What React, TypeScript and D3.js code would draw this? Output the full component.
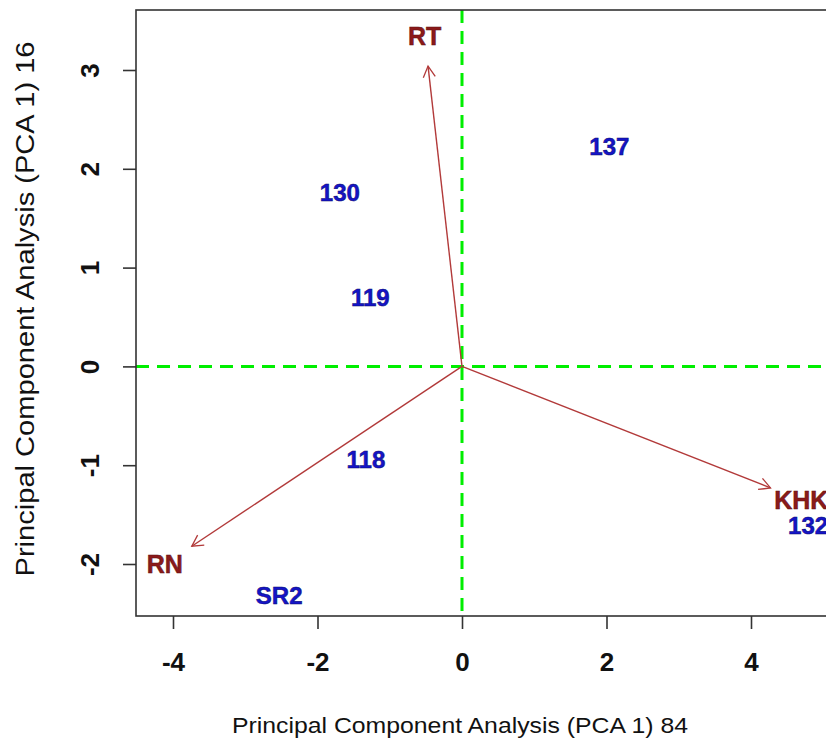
import React, { useRef, useEffect } from 'react';
import * as d3 from 'd3';

// scores (individuals)
const pointLabels = ['137', '130', '119', '118', 'SR2', '132'];
const pc1 = [2.04, -1.69, -1.27, -1.33, -2.53, 4.79];
const pc2 = [2.23, 1.76, 0.7, -0.94, -2.32, -1.61];

// loadings (variables)
const varLabels = ['RT', 'RN', 'KHK'];
const load1 = [-0.47, -3.74, 4.27];
const load2 = [3.04, -1.82, -1.23];

const xTicks = [-4, -2, 0, 2, 4];
const yTicks = [-2, -1, 0, 1, 2, 3];

const xTitle = 'Principal Component Analysis (PCA 1) 84';
const yTitle = 'Principal Component Analysis (PCA 1) 16';

export default function App() {
  const svgRef = useRef(null);
  const width = 826;
  const height = 740;

  useEffect(() => {
    const svg = d3.select(svgRef.current);
    svg.selectAll('*').remove();

    const x = d3.scaleLinear().domain([-4, 4]).range([173, 751]);
    const y = d3.scaleLinear().domain([-2, 3]).range([564, 70]);

    const left = 136, top = 10, bottom = 616, right = 900;
    const font = 'Liberation Sans, Arial, sans-serif';

    const defs = svg.append('defs');
    defs.append('marker')
      .attr('id', 'vhead')
      .attr('viewBox', '-12 -8 14 16')
      .attr('markerWidth', 14)
      .attr('markerHeight', 16)
      .attr('markerUnits', 'userSpaceOnUse')
      .attr('orient', 'auto')
      .append('path')
      .attr('d', 'M-11,-6 L0,0 L-11,6')
      .attr('fill', 'none')
      .attr('stroke', '#b23a3a')
      .attr('stroke-width', 1.3);

    // reference lines
    svg.append('line')
      .attr('x1', x(0)).attr('x2', x(0))
      .attr('y1', top).attr('y2', bottom)
      .attr('stroke', '#00ee00').attr('stroke-width', 3)
      .attr('stroke-dasharray', '13,8');
    svg.append('line')
      .attr('x1', left).attr('x2', right)
      .attr('y1', y(0)).attr('y2', y(0))
      .attr('stroke', '#00ee00').attr('stroke-width', 3)
      .attr('stroke-dasharray', '13,8');

    // arrows
    svg.selectAll('line.arrow')
      .data(varLabels)
      .join('line')
      .attr('class', 'arrow')
      .attr('x1', x(0)).attr('y1', y(0))
      .attr('x2', (d, i) => x(load1[i]))
      .attr('y2', (d, i) => y(load2[i]))
      .attr('stroke', '#b23a3a')
      .attr('stroke-width', 1.4)
      .attr('marker-end', 'url(#vhead)');

    svg.selectAll('text.var')
      .data(varLabels)
      .join('text')
      .attr('class', 'var')
      .attr('x', (d, i) => x(load1[i] * 1.1))
      .attr('y', (d, i) => y(load2[i] * 1.1))
      .attr('dy', '0.36em')
      .attr('text-anchor', 'middle')
      .attr('font-family', font)
      .attr('font-weight', 'bold')
      .attr('font-size', 25)
      .attr('fill', '#8b1a1a')
      .attr('stroke', '#5a1010')
      .attr('stroke-width', 0.5)
      .text(d => d);

    svg.selectAll('text.pt')
      .data(pointLabels)
      .join('text')
      .attr('class', 'pt')
      .attr('x', (d, i) => x(pc1[i]))
      .attr('y', (d, i) => y(pc2[i]))
      .attr('dy', '0.36em')
      .attr('text-anchor', 'middle')
      .attr('font-family', font)
      .attr('font-weight', 'bold')
      .attr('font-size', 24)
      .attr('fill', '#1414c8')
      .attr('stroke', '#0a0a70')
      .attr('stroke-width', 0.5)
      .text(d => d);

    // frame
    svg.append('rect')
      .attr('x', left).attr('y', top)
      .attr('width', right - left).attr('height', bottom - top)
      .attr('fill', 'none')
      .attr('stroke', '#333')
      .attr('stroke-width', 1.6);

    // axes
    const gx = svg.append('g')
      .attr('transform', `translate(0,${bottom})`)
      .call(d3.axisBottom(x).tickValues(xTicks).tickSize(13).tickFormat(d3.format('d')));
    gx.select('.domain').remove();
    gx.selectAll('line').attr('stroke', '#333').attr('stroke-width', 1.6);
    gx.selectAll('text')
      .attr('y', 46)
      .attr('dy', '0.36em')
      .attr('font-family', font)
      .attr('font-weight', 'bold')
      .attr('font-size', 26)
      .attr('fill', '#111')
      .text(d => String(d));

    const gy = svg.append('g')
      .attr('transform', `translate(${left},0)`)
      .call(d3.axisLeft(y).tickValues(yTicks).tickSize(13).tickFormat(d3.format('d')));
    gy.select('.domain').remove();
    gy.selectAll('line').attr('stroke', '#333').attr('stroke-width', 1.6);
    gy.selectAll('text')
      .attr('x', 0)
      .attr('transform', 'translate(-46,0) rotate(-90)')
      .attr('text-anchor', 'middle')
      .attr('dy', '0.36em')
      .attr('font-family', font)
      .attr('font-weight', 'bold')
      .attr('font-size', 26)
      .attr('fill', '#111')
      .text(d => String(d));

    // titles
    svg.append('text')
      .attr('x', 460).attr('y', 733)
      .attr('text-anchor', 'middle')
      .attr('font-family', font)
      .attr('font-size', 22)
      .attr('textLength', 456)
      .attr('lengthAdjust', 'spacingAndGlyphs')
      .attr('fill', '#111')
      .text(xTitle);

    svg.append('text')
      .attr('transform', 'translate(34,309) rotate(-90)')
      .attr('text-anchor', 'middle')
      .attr('font-family', font)
      .attr('font-size', 26)
      .attr('textLength', 535)
      .attr('lengthAdjust', 'spacingAndGlyphs')
      .attr('fill', '#111')
      .text(yTitle);
  }, []);

  return (
    <svg
      ref={svgRef}
      width={width}
      height={height}
      style={{ position: 'absolute', left: 0, top: 0, background: '#fff', overflow: 'hidden' }}
    />
  );
}
